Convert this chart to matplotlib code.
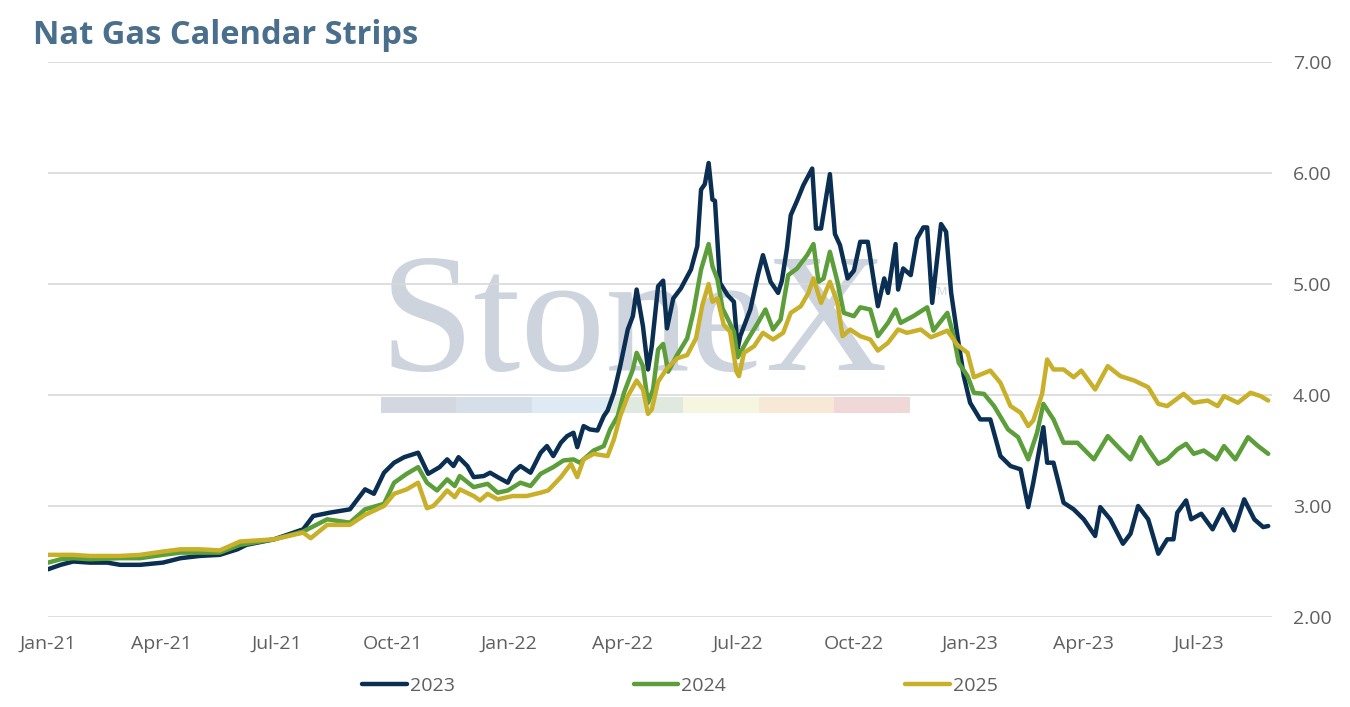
import matplotlib
matplotlib.use("Agg")
import matplotlib.pyplot as plt
import matplotlib.dates as mdates
from matplotlib.patches import Rectangle
import pandas as pd

# 2023 strip
dates_2023 = [
    "2021-01-01", "2021-01-11", "2021-01-21", "2021-02-03", "2021-02-17", "2021-02-27",
    "2021-03-15", "2021-04-02", "2021-04-16", "2021-05-01", "2021-05-17", "2021-05-31",
    "2021-06-07", "2021-06-29", "2021-07-22", "2021-07-30", "2021-08-12", "2021-08-28",
    "2021-09-09", "2021-09-16", "2021-09-24", "2021-10-02", "2021-10-10", "2021-10-21",
    "2021-10-29", "2021-11-07", "2021-11-13", "2021-11-18", "2021-11-22", "2021-11-29",
    "2021-12-04", "2021-12-12", "2021-12-17", "2021-12-23", "2021-12-31", "2022-01-04",
    "2022-01-10", "2022-01-18", "2022-01-26", "2022-01-31", "2022-02-05", "2022-02-11",
    "2022-02-16", "2022-02-21", "2022-02-24", "2022-03-01", "2022-03-06", "2022-03-12",
    "2022-03-17", "2022-03-20", "2022-03-25", "2022-03-30", "2022-04-05", "2022-04-09",
    "2022-04-12", "2022-04-17", "2022-04-21", "2022-04-24", "2022-04-29", "2022-05-03",
    "2022-05-06", "2022-05-11", "2022-05-17", "2022-05-25", "2022-05-30", "2022-06-02",
    "2022-06-05", "2022-06-08", "2022-06-11", "2022-06-13", "2022-06-17", "2022-06-23",
    "2022-06-28", "2022-07-01", "2022-07-03", "2022-07-11", "2022-07-17", "2022-07-21",
    "2022-07-27", "2022-08-02", "2022-08-05", "2022-08-09", "2022-08-12", "2022-08-17",
    "2022-08-22", "2022-08-29", "2022-09-01", "2022-09-05", "2022-09-12", "2022-09-16",
    "2022-09-20", "2022-09-26", "2022-10-01", "2022-10-06", "2022-10-12", "2022-10-17",
    "2022-10-20", "2022-10-25", "2022-10-28", "2022-11-03", "2022-11-05", "2022-11-09",
    "2022-11-15", "2022-11-20", "2022-11-25", "2022-11-28", "2022-12-02", "2022-12-09",
    "2022-12-13", "2022-12-17", "2022-12-22", "2022-12-27", "2023-01-01", "2023-01-09",
    "2023-01-17", "2023-01-25", "2023-02-02", "2023-02-10", "2023-02-16", "2023-02-20",
    "2023-02-28", "2023-03-03", "2023-03-08", "2023-03-16", "2023-03-24", "2023-04-01",
    "2023-04-10", "2023-04-14", "2023-04-22", "2023-05-02", "2023-05-08", "2023-05-14",
    "2023-05-22", "2023-05-30", "2023-06-06", "2023-06-11", "2023-06-14", "2023-06-21",
    "2023-06-25", "2023-07-03", "2023-07-12", "2023-07-20", "2023-07-29", "2023-08-06",
    "2023-08-14", "2023-08-21", "2023-08-25",
]
strip_2023 = [
    2.43, 2.47, 2.50, 2.49, 2.49, 2.47,
    2.47, 2.49, 2.53, 2.55, 2.56, 2.61,
    2.65, 2.70, 2.79, 2.91, 2.94, 2.97,
    3.15, 3.11, 3.30, 3.39, 3.44, 3.48,
    3.29, 3.35, 3.42, 3.36, 3.44, 3.36,
    3.26, 3.27, 3.30, 3.26, 3.21, 3.30,
    3.36, 3.30, 3.48, 3.54, 3.45, 3.57,
    3.63, 3.66, 3.53, 3.72, 3.69, 3.68,
    3.81, 3.86, 4.02, 4.26, 4.59, 4.71,
    4.95, 4.62, 4.23, 4.44, 4.98, 5.03,
    4.60, 4.87, 4.96, 5.13, 5.34, 5.85,
    5.90, 6.09, 5.76, 5.75, 5.01, 4.90,
    4.84, 4.42, 4.53, 4.77, 5.08, 5.26,
    5.02, 4.92, 5.03, 5.32, 5.62, 5.75,
    5.89, 6.04, 5.50, 5.50, 5.99, 5.45,
    5.35, 5.05, 5.12, 5.38, 5.38, 5.01,
    4.80, 5.05, 4.92, 5.36, 4.95, 5.14,
    5.08, 5.41, 5.51, 5.51, 4.83, 5.54,
    5.47, 4.92, 4.53, 4.17, 3.93, 3.78,
    3.78, 3.45, 3.36, 3.33, 2.99, 3.21,
    3.71, 3.39, 3.39, 3.03, 2.97, 2.88,
    2.73, 2.99, 2.88, 2.66, 2.75, 3.00,
    2.88, 2.57, 2.70, 2.70, 2.94, 3.05,
    2.88, 2.93, 2.79, 2.97, 2.78, 3.06,
    2.88, 2.81, 2.82,
]

# 2024 strip
dates_2024 = [
    "2021-01-01", "2021-01-11", "2021-01-21", "2021-02-03", "2021-02-27", "2021-03-15",
    "2021-04-02", "2021-04-16", "2021-05-01", "2021-05-17", "2021-06-02", "2021-06-29",
    "2021-07-22", "2021-08-10", "2021-08-28", "2021-09-09", "2021-09-24", "2021-10-02",
    "2021-10-12", "2021-10-21", "2021-10-28", "2021-11-05", "2021-11-13", "2021-11-19",
    "2021-11-23", "2021-12-04", "2021-12-15", "2021-12-23", "2021-12-31", "2022-01-10",
    "2022-01-18", "2022-01-26", "2022-02-05", "2022-02-13", "2022-02-21", "2022-02-26",
    "2022-03-09", "2022-03-17", "2022-03-22", "2022-03-28", "2022-04-02", "2022-04-09",
    "2022-04-12", "2022-04-17", "2022-04-21", "2022-04-25", "2022-04-29", "2022-05-03",
    "2022-05-07", "2022-05-14", "2022-05-22", "2022-05-27", "2022-06-02", "2022-06-08",
    "2022-06-11", "2022-06-15", "2022-06-19", "2022-06-23", "2022-06-28", "2022-07-01",
    "2022-07-09", "2022-07-17", "2022-07-23", "2022-07-29", "2022-08-04", "2022-08-10",
    "2022-08-17", "2022-08-25", "2022-08-30", "2022-09-03", "2022-09-07", "2022-09-12",
    "2022-09-18", "2022-09-23", "2022-10-01", "2022-10-06", "2022-10-14", "2022-10-20",
    "2022-10-28", "2022-11-03", "2022-11-07", "2022-11-17", "2022-11-28", "2022-12-03",
    "2022-12-14", "2022-12-19", "2022-12-23", "2022-12-30", "2023-01-04", "2023-01-12",
    "2023-01-20", "2023-01-31", "2023-02-08", "2023-02-16", "2023-02-23", "2023-02-28",
    "2023-03-08", "2023-03-16", "2023-03-27", "2023-04-09", "2023-04-20", "2023-04-30",
    "2023-05-08", "2023-05-16", "2023-05-22", "2023-05-30", "2023-06-06", "2023-06-14",
    "2023-06-21", "2023-06-27", "2023-07-05", "2023-07-15", "2023-07-21", "2023-07-30",
    "2023-08-09", "2023-08-17", "2023-08-25",
]
strip_2024 = [
    2.49, 2.52, 2.53, 2.52, 2.53, 2.53,
    2.56, 2.58, 2.58, 2.58, 2.65, 2.70,
    2.77, 2.88, 2.85, 2.97, 3.02, 3.21,
    3.29, 3.35, 3.21, 3.14, 3.24, 3.18,
    3.27, 3.17, 3.20, 3.12, 3.14, 3.21,
    3.18, 3.29, 3.35, 3.41, 3.42, 3.39,
    3.50, 3.54, 3.69, 3.81, 4.02, 4.23,
    4.38, 4.26, 3.93, 4.05, 4.41, 4.46,
    4.21, 4.36, 4.51, 4.75, 5.13, 5.36,
    5.16, 5.04, 4.78, 4.69, 4.57, 4.34,
    4.50, 4.65, 4.77, 4.59, 4.68, 5.08,
    5.14, 5.26, 5.36, 5.02, 5.05, 5.29,
    5.02, 4.74, 4.71, 4.79, 4.77, 4.53,
    4.65, 4.77, 4.65, 4.71, 4.79, 4.58,
    4.74, 4.53, 4.29, 4.17, 4.02, 4.01,
    3.90, 3.69, 3.62, 3.42, 3.66, 3.92,
    3.78, 3.57, 3.57, 3.42, 3.63, 3.51,
    3.42, 3.62, 3.51, 3.38, 3.42, 3.51,
    3.56, 3.47, 3.50, 3.42, 3.54, 3.42,
    3.62, 3.54, 3.47,
]

# 2025 strip
dates_2025 = [
    "2021-01-01", "2021-01-11", "2021-01-21", "2021-02-03", "2021-02-27", "2021-03-15",
    "2021-04-02", "2021-04-16", "2021-05-01", "2021-05-17", "2021-06-02", "2021-06-29",
    "2021-07-22", "2021-07-28", "2021-08-10", "2021-08-28", "2021-09-09", "2021-09-24",
    "2021-10-02", "2021-10-12", "2021-10-21", "2021-10-28", "2021-11-02", "2021-11-07",
    "2021-11-13", "2021-11-19", "2021-11-23", "2021-12-04", "2021-12-09", "2021-12-15",
    "2021-12-23", "2022-01-04", "2022-01-15", "2022-01-26", "2022-02-01", "2022-02-11",
    "2022-02-19", "2022-02-24", "2022-03-01", "2022-03-09", "2022-03-20", "2022-03-25",
    "2022-03-30", "2022-04-05", "2022-04-12", "2022-04-17", "2022-04-21", "2022-04-24",
    "2022-04-29", "2022-05-06", "2022-05-14", "2022-05-22", "2022-05-29", "2022-06-03",
    "2022-06-08", "2022-06-11", "2022-06-15", "2022-06-20", "2022-06-25", "2022-06-30",
    "2022-07-02", "2022-07-06", "2022-07-14", "2022-07-21", "2022-07-29", "2022-08-06",
    "2022-08-12", "2022-08-20", "2022-08-26", "2022-08-30", "2022-09-05", "2022-09-12",
    "2022-09-18", "2022-09-22", "2022-09-28", "2022-10-06", "2022-10-14", "2022-10-20",
    "2022-10-28", "2022-11-05", "2022-11-12", "2022-11-23", "2022-12-01", "2022-12-14",
    "2022-12-22", "2022-12-30", "2023-01-04", "2023-01-17", "2023-01-25", "2023-02-02",
    "2023-02-10", "2023-02-16", "2023-02-20", "2023-02-27", "2023-03-03", "2023-03-08",
    "2023-03-16", "2023-03-24", "2023-03-30", "2023-04-10", "2023-04-20", "2023-04-30",
    "2023-05-11", "2023-05-22", "2023-05-30", "2023-06-06", "2023-06-19", "2023-06-27",
    "2023-07-08", "2023-07-16", "2023-07-21", "2023-08-01", "2023-08-11", "2023-08-19",
    "2023-08-25",
]
strip_2025 = [
    2.56, 2.56, 2.56, 2.55, 2.55, 2.56,
    2.59, 2.61, 2.61, 2.60, 2.68, 2.70,
    2.76, 2.71, 2.83, 2.83, 2.92, 3.00,
    3.11, 3.15, 3.21, 2.98, 3.00, 3.06,
    3.14, 3.08, 3.15, 3.09, 3.05, 3.11,
    3.06, 3.09, 3.09, 3.12, 3.14, 3.26,
    3.38, 3.26, 3.42, 3.47, 3.45, 3.60,
    3.81, 3.99, 4.13, 4.05, 3.83, 3.87,
    4.12, 4.24, 4.33, 4.36, 4.51, 4.81,
    5.00, 4.84, 4.87, 4.63, 4.57, 4.21,
    4.17, 4.38, 4.44, 4.56, 4.50, 4.56,
    4.74, 4.80, 4.92, 5.05, 4.83, 5.02,
    4.83, 4.53, 4.59, 4.53, 4.50, 4.40,
    4.47, 4.59, 4.56, 4.59, 4.52, 4.58,
    4.45, 4.38, 4.16, 4.22, 4.11, 3.90,
    3.84, 3.72, 3.77, 4.01, 4.32, 4.23,
    4.23, 4.16, 4.22, 4.05, 4.26, 4.17,
    4.13, 4.07, 3.92, 3.90, 4.01, 3.93,
    3.95, 3.90, 3.99, 3.93, 4.02, 3.99,
    3.95,
]

series_names = ["2023", "2024", "2025"]
colors = ["#0b2f52", "#5b9e3a", "#c8b02a"]
y_ticks = [2, 3, 4, 5, 6, 7]

# watermark band colours
band_colors = ["#d3d8e0", "#d6dee9", "#deebf5", "#dfe9df", "#f6f5df", "#f8e8d6", "#f0d8d8"]

plt.rcParams['font.family'] = ['Open Sans', 'DejaVu Sans']

fig = plt.figure(figsize=(13.5, 7.07), dpi=100)
ax = fig.add_axes([48 / 1350, 1 - 617 / 707, 1224 / 1350, 555 / 707])

# faint StoneX watermark behind the lines
ax.text(0.271, 0.445, "StoneX", transform=ax.transAxes, fontsize=122,
        family="Liberation Serif", color="#cdd4de", ha="left", va="baseline", zorder=0)
ax.text(0.722, 0.585, "TM", transform=ax.transAxes, fontsize=8,
        color="#cdd4de", ha="left", va="center", zorder=0)
x0, x1 = 0.272, 0.704
bw = (x1 - x0) / len(band_colors)
for i, c in enumerate(band_colors):
    ax.add_patch(Rectangle((x0 + i * bw, 0.3676), bw, 0.0284, transform=ax.transAxes,
                           facecolor=c, edgecolor="none", zorder=0))

all_dates = [dates_2023, dates_2024, dates_2025]
all_vals = [strip_2023, strip_2024, strip_2025]
for name, d, v, c in zip(series_names, all_dates, all_vals, colors):
    ax.plot(pd.to_datetime(d), v, color=c, lw=3.2, label=name, zorder=3,
            solid_capstyle="round", solid_joinstyle="round")

ax.set_xlim(pd.Timestamp("2021-01-01"), pd.Timestamp("2023-08-28"))
ax.set_ylim(2, 7)
ax.set_yticks(y_ticks)
ax.yaxis.set_major_formatter(plt.FuncFormatter(lambda v, p: f"{v:.2f}"))
ax.yaxis.tick_right()
ax.xaxis.set_major_locator(mdates.MonthLocator(bymonth=[1, 4, 7, 10]))
ax.xaxis.set_major_formatter(mdates.DateFormatter("%b-%y"))
ax.tick_params(axis="y", length=0, pad=15, labelsize=14, labelcolor="#5f5f5f")
ax.tick_params(axis="x", length=0, pad=13, labelsize=14, labelcolor="#5f5f5f")
ax.grid(axis="y", color="#d9d9d9", lw=1.2)
ax.set_axisbelow(True)
for s in ax.spines.values():
    s.set_visible(False)

fig.text(33 / 1350, 1 - 36 / 707, "Nat Gas Calendar Strips", fontsize=23.5,
         fontweight="bold", color="#4a6f8c", ha="left", va="center")

fig.legend(loc="center", bbox_to_anchor=(680 / 1350, 1 - 686 / 707), ncol=3,
           frameon=False, fontsize=14, handlelength=2.3, handletextpad=0.15,
           columnspacing=9.2, labelcolor="#5f5f5f")

fig.savefig("out.png", dpi=100)
